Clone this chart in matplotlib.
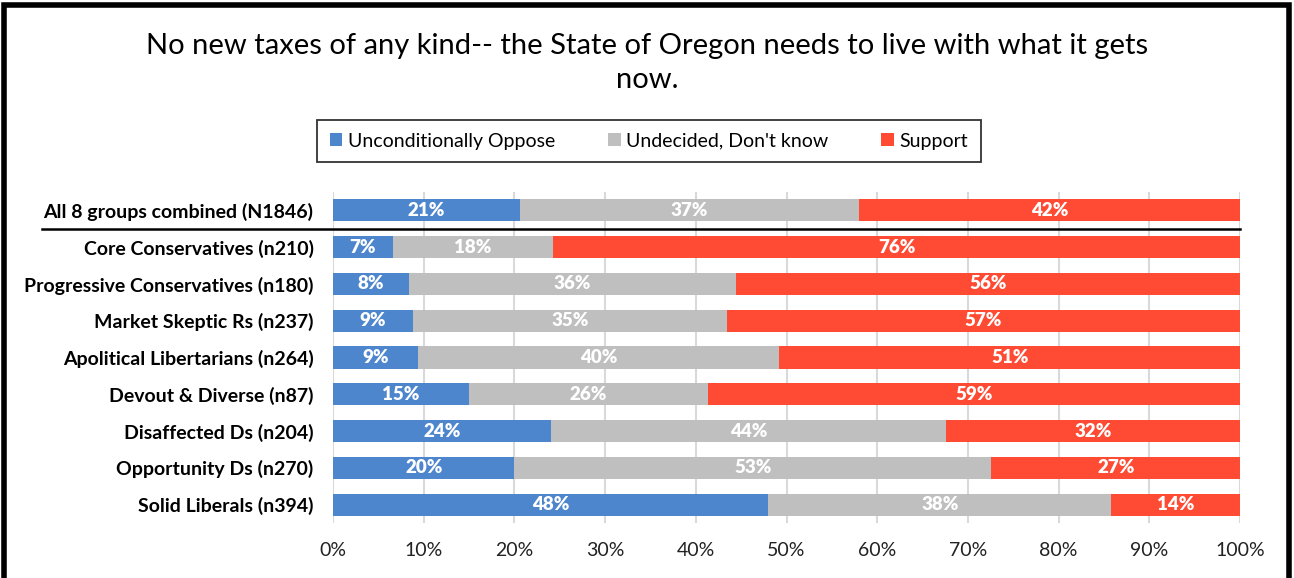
import matplotlib
matplotlib.use("Agg")
import matplotlib.pyplot as plt
from matplotlib.patches import Rectangle, Patch

plt.rcParams['font.family'] = ['Lato', 'DejaVu Sans']

title = "No new taxes of any kind-- the State of Oregon needs to live with what it gets\nnow."
categories = ["All 8 groups combined (N1846)", "Core Conservatives (n210)",
              "Progressive Conservatives (n180)", "Market Skeptic Rs (n237)",
              "Apolitical Libertarians (n264)", "Devout & Diverse (n87)",
              "Disaffected Ds (n204)", "Opportunity Ds (n270)", "Solid Liberals (n394)"]
series_names = ["Unconditionally Oppose", "Undecided, Don't know", "Support"]
oppose = [20.6, 6.6, 8.4, 8.8, 9.4, 15.0, 24.0, 20.0, 48.0]
undecided = [37.4, 17.7, 36.0, 34.6, 39.8, 26.3, 43.6, 52.6, 37.8]
support = [42.0, 75.7, 55.6, 56.6, 50.8, 58.7, 32.4, 27.4, 14.2]
xticks = [0, 10, 20, 30, 40, 50, 60, 70, 80, 90, 100]
xtick_labels = [f"{v}%" for v in xticks]

colors = ["#4E86CE", "#BFBFBF", "#FF4B33"]

fig = plt.figure(figsize=(12.94, 5.78), dpi=100)
ax = fig.add_axes([333/1294, 1-523/578, 907/1294, 331/578])

ypos = list(range(len(categories)))
left = [0.0]*len(categories)
for vals, col in zip([oppose, undecided, support], colors):
    ax.barh(ypos, vals, left=left, height=0.6, color=col, zorder=3)
    for y, l, v in zip(ypos, left, vals):
        ax.text(l + v/2, y, f"{round(v)}%", ha='center', va='center',
                color='white', fontsize=13.5, fontweight='heavy', zorder=4)
    left = [a + b for a, b in zip(left, vals)]

ax.set_xlim(0, 100)
ax.set_ylim(8.5, -0.5)
ax.set_yticks(ypos)
ax.set_yticklabels(categories, fontsize=14, fontweight='bold')
ax.set_xticks(xticks)
ax.set_xticklabels(xtick_labels, fontsize=14, color='#222222')
ax.tick_params(axis='both', length=0)
ax.tick_params(axis='y', pad=14)
ax.tick_params(axis='x', pad=14)
ax.grid(axis='x', color='#D9D9D9', linewidth=1.5, zorder=0)
for s in ax.spines.values():
    s.set_visible(False)

# separator line under the combined row
ax.plot([-0.321, 1.0], [0.5, 0.5], transform=ax.get_yaxis_transform(),
        color='black', linewidth=1.8, clip_on=False, zorder=5)

fig.text(647/1294, 1-63/578, title, ha='center', va='center', fontsize=21,
         color='#000000', linespacing=1.4)

handles = [Patch(facecolor=c, edgecolor='none') for c in colors]
leg = fig.legend(handles, series_names, loc='center', bbox_to_anchor=(649/1294, 1-141/578),
                 ncol=3, frameon=True, fontsize=14, handlelength=0.65, handleheight=0.65,
                 handletextpad=0.3, columnspacing=2.7, fancybox=False, borderpad=0.65,
                 borderaxespad=0)
leg.get_frame().set_edgecolor('black')
leg.get_frame().set_linewidth(1.3)

# outer frame
fig.patches.append(Rectangle((3.5/1294, -0.05), (1288.5-3.5)/1294, (1+0.05) - 4.5/578,
                             transform=fig.transFigure, fill=False, edgecolor='black',
                             linewidth=4, clip_on=False))

fig.savefig("out.png", dpi=100)
